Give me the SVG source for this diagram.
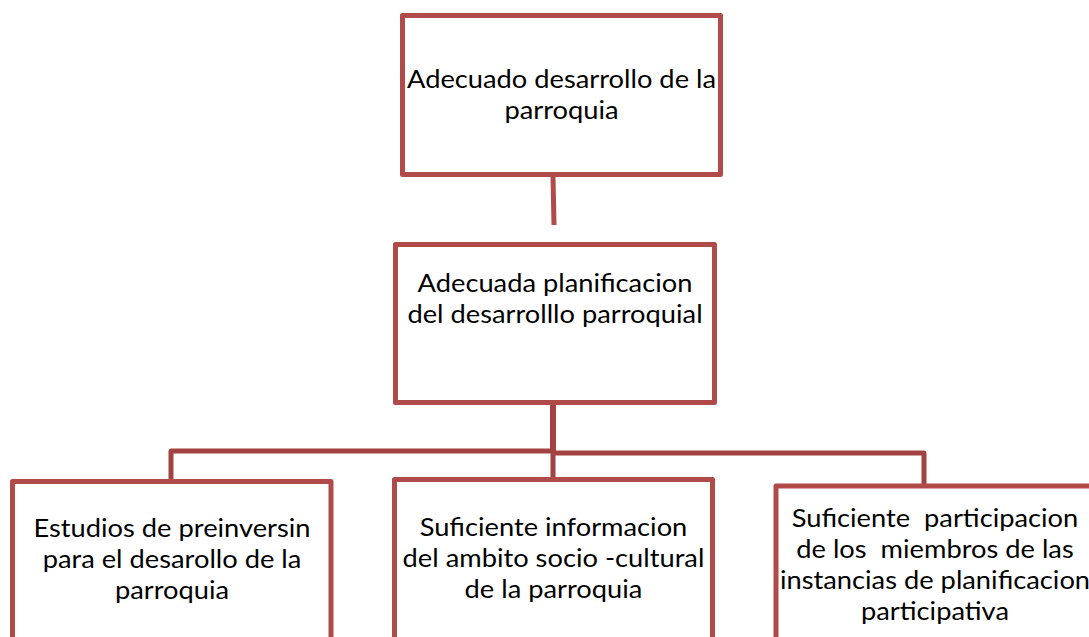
<svg xmlns="http://www.w3.org/2000/svg" width="1089" height="637" viewBox="0 0 1089 637">
<style>
.box{fill:#ffffff;stroke:#B14B49;stroke-width:5;stroke-linejoin:round}
.conn{fill:none;stroke:#A34242;stroke-width:5;stroke-linejoin:round;stroke-linecap:butt}
.t{font-family:Lato,"Open Sans","Liberation Sans",sans-serif;font-size:25.5px;fill:#000;text-anchor:middle}
</style>
<rect width="1089" height="637" fill="#ffffff"/>
<g id="connectors">
<line class="conn" x1="553" y1="176" x2="554" y2="225" style="stroke:#B14B49"/>
<line class="conn" x1="553" y1="403" x2="553" y2="452" style="stroke-width:6"/>
<polyline class="conn" points="171,481 171,451 553,451"/>
<polyline class="conn" points="553,453 924,453 924,486"/>
<line class="conn" x1="553" y1="452" x2="553" y2="478"/>
</g>
<g id="n1">
<rect class="box" x="402.5" y="15.5" width="318" height="159"/>
<g transform="matrix(1.07,0,0,1,-39.3,0)">
<text class="t" x="561.5" y="88">Adecuado desarrollo de la</text>
<text class="t" x="561.5" y="119">parroquia</text>
</g>
</g>
<g id="n2">
<rect class="box" x="395.5" y="244.5" width="319" height="158"/>
<g transform="matrix(1.07,0,0,1,-38.85,0)">
<text class="t" x="555" y="292">Adecuada planificacion</text>
<text class="t" x="555" y="323">del desarrolllo parroquial</text>
</g>
</g>
<g id="n3">
<rect class="box" x="12.5" y="481.5" width="318.5" height="175"/>
<g transform="matrix(1.07,0,0,1,-12.04,0)">
<text class="t" x="172" y="537">Estudios de preinversin</text>
<text class="t" x="172" y="568">para el desarollo de la</text>
<text class="t" x="172" y="599">parroquia</text>
</g>
</g>
<g id="n4">
<rect class="box" x="394.5" y="479.5" width="318" height="175"/>
<g transform="matrix(1.07,0,0,1,-38.75,0)">
<text class="t" x="553.5" y="536">Suficiente informacion</text>
<text class="t" x="553.5" y="567">del ambito socio -cultural</text>
<text class="t" x="553.5" y="598">de la parroquia</text>
</g>
</g>
<g id="n5">
<rect class="box" x="776" y="486" width="318" height="170"/>
<g transform="matrix(1.07,0,0,1,-65.45,0)">
<text class="t" x="935" y="527" xml:space="preserve">Suficiente  participacion</text>
<text class="t" x="935" y="558" xml:space="preserve">de los  miembros de las</text>
<text class="t" x="935" y="589">instancias de planificacion</text>
<text class="t" x="935" y="620">participativa</text>
</g>
</g>
</svg>
